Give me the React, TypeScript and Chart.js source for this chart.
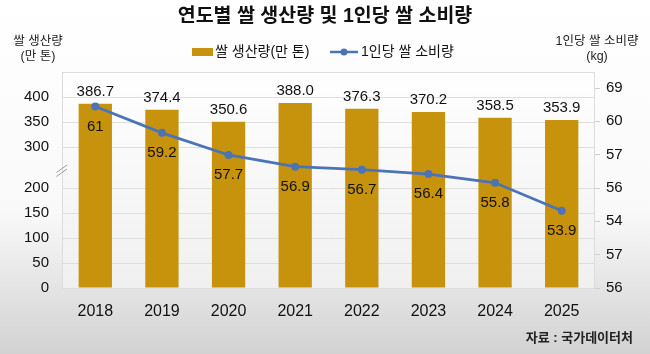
import { useEffect, useRef } from 'react';
import { Chart, registerables, LinearScale } from 'chart.js';

Chart.register(...registerables);

const years = ['2018', '2019', '2020', '2021', '2022', '2023', '2024', '2025'];
const production = [386.7, 374.4, 350.6, 388.0, 376.3, 370.2, 358.5, 353.9];
const consumption = [61, 59.2, 57.7, 56.9, 56.7, 56.4, 55.8, 53.9];
const leftTicks = [0, 50, 100, 150, 200, 300, 350, 400];
// right axis labels, bottom to top, as printed in the source graphic
const rightTickLabels = ['56', '57', '54', '56', '57', '60', '69'];

const titleText = '연도별 쌀 생산량 및 1인당 쌀 소비량';
const barLegend = '쌀 생산량(만 톤)';
const lineLegend = '1인당 쌀 소비량';
const leftTitle = ['쌀 생산량', '(만 톤)'];
const rightTitle = ['1인당 쌀 소비량', '(kg)'];
const sourceText = '자료 : 국가데이터처';

const FONT = '"Liberation Sans", "Noto Sans CJK KR", Arial, sans-serif';
const BAR_COLOR = '#C8930C';
const LINE_COLOR = '#4A74B6';

// broken axis: 200..300 compressed
function toBroken(v: number) {
  if (v <= 200) return v;
  if (v < 300) return 200 + (v - 200) * 0.82;
  return v - 18;
}
function fromBroken(m: number) {
  if (m <= 200) return m;
  if (m < 282) return 200 + (m - 200) / 0.82;
  return m + 18;
}

class BrokenLinearScale extends LinearScale {
  static id = 'brokenLinear';
  static defaults = LinearScale.defaults;
  getPixelForValue(value: any) {
    return super.getPixelForValue(toBroken(value));
  }
  getValueForPixel(pixel: number) {
    return fromBroken(super.getValueForPixel(pixel) as number);
  }
}
Chart.register(BrokenLinearScale as any);

const decorPlugin = {
  id: 'decor',
  beforeDraw(chart: any) {
    const { ctx, width, height, chartArea } = chart;
    ctx.save();
    const g = ctx.createLinearGradient(0, 0, 0, height);
    g.addColorStop(0, '#ffffff');
    g.addColorStop(0.6, '#f9f9f9');
    g.addColorStop(1, '#d2d2d2');
    ctx.fillStyle = g;
    ctx.fillRect(0, 0, width, height);
    const g2 = ctx.createLinearGradient(0, chartArea.top, 0, chartArea.bottom);
    g2.addColorStop(0, '#ffffff');
    g2.addColorStop(1, '#f0f0f0');
    ctx.fillStyle = g2;
    ctx.fillRect(chartArea.left, chartArea.top, chartArea.right - chartArea.left, chartArea.bottom - chartArea.top);
    ctx.restore();
  },
  beforeDatasetsDraw(chart: any) {
    const { ctx, chartArea } = chart;
    ctx.save();
    ctx.strokeStyle = '#dcdcdc';
    ctx.lineWidth = 1;
    ctx.strokeRect(chartArea.left + 0.5, chartArea.top + 0.5, chartArea.right - chartArea.left - 1, chartArea.bottom - chartArea.top);
    ctx.restore();
  },
  afterDatasetsDraw(chart: any) {
    const { ctx } = chart;
    ctx.save();
    ctx.fillStyle = '#111';
    ctx.textAlign = 'center';
    ctx.textBaseline = 'middle';
    ctx.font = `15px ${FONT}`;
    const barMeta = chart.getDatasetMeta(1);
    barMeta.data.forEach((el: any, i: number) => {
      ctx.fillText(production[i].toFixed(1), el.x, el.y - 12);
    });
    const lineMeta = chart.getDatasetMeta(0);
    lineMeta.data.forEach((el: any, i: number) => {
      ctx.fillText(String(consumption[i]), el.x, el.y + 20);
    });
    ctx.restore();
  },
  afterDraw(chart: any) {
    const { ctx } = chart;
    ctx.save();
    ctx.fillStyle = '#111';
    ctx.textBaseline = 'middle';
    ctx.textAlign = 'center';
    // title
    ctx.font = `bold 19.5px ${FONT}`;
    ctx.fillText(titleText, 325, 17);
    // axis titles
    ctx.font = `12.5px ${FONT}`;
    ctx.fillStyle = '#222';
    ctx.fillText(leftTitle[0], 38, 42);
    ctx.fillText(leftTitle[1], 38, 57);
    ctx.fillText(rightTitle[0], 597, 42);
    ctx.fillText(rightTitle[1], 597, 57);
    // legend
    ctx.fillStyle = BAR_COLOR;
    ctx.fillRect(192, 48, 21, 8);
    ctx.fillStyle = '#111';
    ctx.textAlign = 'left';
    ctx.font = `14px ${FONT}`;
    ctx.fillText(barLegend, 215, 52);
    ctx.strokeStyle = LINE_COLOR;
    ctx.lineWidth = 2.5;
    ctx.beginPath();
    ctx.moveTo(330, 52);
    ctx.lineTo(358, 52);
    ctx.stroke();
    ctx.fillStyle = LINE_COLOR;
    ctx.beginPath();
    ctx.arc(344, 52, 3.5, 0, Math.PI * 2);
    ctx.fill();
    ctx.fillStyle = '#111';
    ctx.fillText(lineLegend, 361, 52);
    // source
    ctx.font = `bold 13px ${FONT}`;
    ctx.textAlign = 'right';
    ctx.fillStyle = '#222';
    ctx.fillText(sourceText, 633, 338);
    // axis break mark
    ctx.strokeStyle = '#9a9a9a';
    ctx.lineWidth = 1;
    ctx.beginPath();
    ctx.moveTo(56.5, 172.5);
    ctx.lineTo(67, 165);
    ctx.moveTo(56.5, 176.5);
    ctx.lineTo(67, 169);
    ctx.stroke();
    ctx.restore();
  },
};

export default function App() {
  const ref = useRef<HTMLCanvasElement | null>(null);
  useEffect(() => {
    document.body.style.margin = '0';
    if (!ref.current) return;
    const chart = new Chart(ref.current, {
      type: 'bar',
      data: {
        labels: years,
        datasets: [
          {
            type: 'line',
            label: lineLegend,
            data: consumption,
            yAxisID: 'yLine',
            borderColor: LINE_COLOR,
            backgroundColor: LINE_COLOR,
            borderWidth: 2.7,
            pointRadius: 4,
            pointBackgroundColor: LINE_COLOR,
            pointBorderWidth: 0,
            tension: 0,
            order: 0,
          } as any,
          {
            type: 'bar',
            label: barLegend,
            data: production,
            yAxisID: 'y',
            backgroundColor: BAR_COLOR,
            barPercentage: 0.5,
            categoryPercentage: 1,
            order: 1,
          },
        ],
      },
      options: {
        responsive: false,
        animation: false,
        devicePixelRatio: 1,
        layout: { padding: { top: 72, left: 0, right: 0, bottom: 0 } },
        plugins: {
          legend: { display: false },
          title: { display: false },
          tooltip: { enabled: false },
        },
        scales: {
          x: {
            grid: { display: false },
            border: { display: false },
            ticks: { font: { family: FONT, size: 16 }, color: '#111', padding: 6 },
            afterFit: (s: any) => { s.height = 66; },
          },
          y: {
            type: 'brokenLinear' as any,
            position: 'left',
            min: 0,
            max: 432,
            afterBuildTicks: (s: any) => { s.ticks = leftTicks.map((value) => ({ value })); },
            grid: { color: '#dedede', drawTicks: false, lineWidth: 1 },
            border: { display: false },
            ticks: { font: { family: FONT, size: 15 }, color: '#111', padding: 13 },
            afterFit: (s: any) => { s.width = 62; },
          },
          yR: {
            position: 'right',
            min: 0,
            max: 6.48,
            afterBuildTicks: (s: any) => { s.ticks = rightTickLabels.map((_, i) => ({ value: i })); },
            grid: { drawOnChartArea: false, drawTicks: true, tickLength: 5, color: '#cfcfcf' },
            border: { display: false },
            ticks: {
              font: { family: FONT, size: 15 },
              color: '#111',
              padding: 6,
              callback: (v: any) => rightTickLabels[v] ?? '',
            },
            afterFit: (s: any) => { s.width = 55; },
          },
          yLine: { display: false, min: 48.65, max: 63.34 },
        },
      } as any,
      plugins: [decorPlugin],
    });
    return () => chart.destroy();
  }, []);
  return (
    <div style={{ position: 'absolute', left: 0, top: 0, width: 650, height: 354 }}>
      <canvas ref={ref} width={650} height={354} style={{ display: 'block' }} />
    </div>
  );
}
